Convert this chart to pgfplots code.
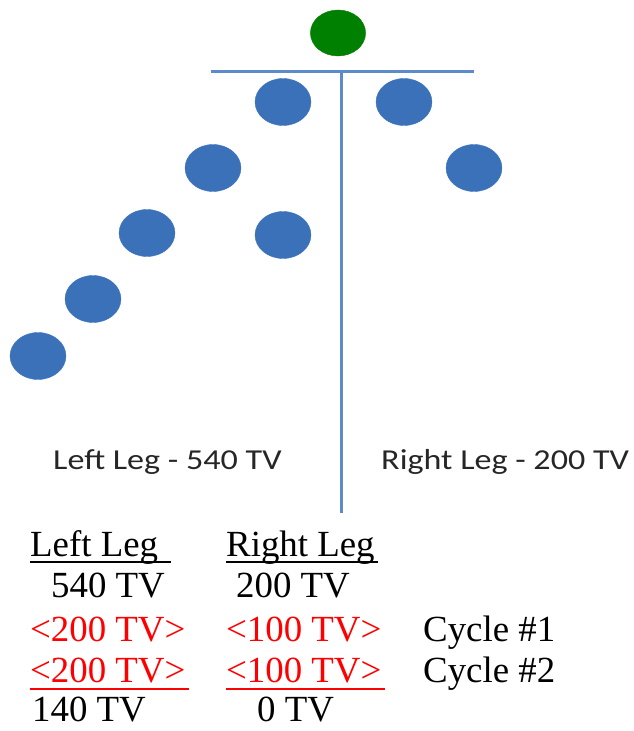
\documentclass[border=0pt]{standalone}
\usepackage{fontspec}
\setmainfont{Liberation Serif}
\newfontfamily\calfont{Carlito}
\usepackage{pgfplots}
\pgfplotsset{compat=1.18}
\definecolor{nodeblue}{HTML}{3A71B9}
\definecolor{linblue}{HTML}{5B8BC9}
\definecolor{rootgreen}{HTML}{008000}
\begin{document}
\begin{tikzpicture}
\begin{axis}[width=634bp,height=731bp,scale only axis,
  xmin=0,xmax=634,ymin=0,ymax=731,y dir=reverse,hide axis,clip=false]
\addplot[linblue,line width=3bp] coordinates {(211,72)(474,72)};
\addplot[linblue,line width=3bp] coordinates {(341,72)(341,513)};
\addplot[only marks,mark=*,mark size=23.5bp,color=nodeblue,
  mark options={fill=nodeblue,draw=nodeblue,xscale=1.19}] coordinates {
  (283,102)(404,102)(213,168)(474,168)(147,233)(283,235)(93,299)(38,356)};
\addplot[only marks,mark=*,mark size=23bp,color=rootgreen,
  mark options={fill=rootgreen,draw=rootgreen,xscale=1.2}] coordinates {(338,33)};
% labels
\node[anchor=base west,inner sep=0pt,text=black!85,font=\calfont\fontsize{29}{32}\selectfont,xscale=1.18] at (axis cs:53,469) {Left Leg - 540 TV};
\node[anchor=base west,inner sep=0pt,text=black!85,font=\calfont\fontsize{29}{32}\selectfont,xscale=1.18] at (axis cs:381,469) {Right Leg - 200 TV};
\tikzset{tt/.style={anchor=base west,inner sep=0pt,font=\fontsize{37}{40}\selectfont}}
\node[tt] at (axis cs:30,556) {Left Leg};
\node[tt] at (axis cs:226,556) {Right Leg};
\node[tt] at (axis cs:51,597) {540 TV};
\node[tt] at (axis cs:236,597) {200 TV};
\node[tt,text=red] at (axis cs:30,641) {<200 TV>};
\node[tt,text=red] at (axis cs:226,641) {<100 TV>};
\node[tt] at (axis cs:423,641) {Cycle \#1};
\node[tt,text=red] at (axis cs:30,682) {<200 TV>};
\node[tt,text=red] at (axis cs:226,682) {<100 TV>};
\node[tt] at (axis cs:423,682) {Cycle \#2};
\node[tt] at (axis cs:32,721) {140 TV};
\node[tt] at (axis cs:257,721) {0 TV};
\draw[black,line width=2.5bp] (axis cs:30,562) -- (axis cs:171,562);
\draw[black,line width=2.5bp] (axis cs:226,562) -- (axis cs:378,562);
\draw[red,line width=2bp] (axis cs:30,689) -- (axis cs:189,689);
\draw[red,line width=2bp] (axis cs:226,689) -- (axis cs:385,689);
\end{axis}
\pgfresetboundingbox
\path (current axis.south west) rectangle (current axis.north east);
\end{tikzpicture}
\end{document}
